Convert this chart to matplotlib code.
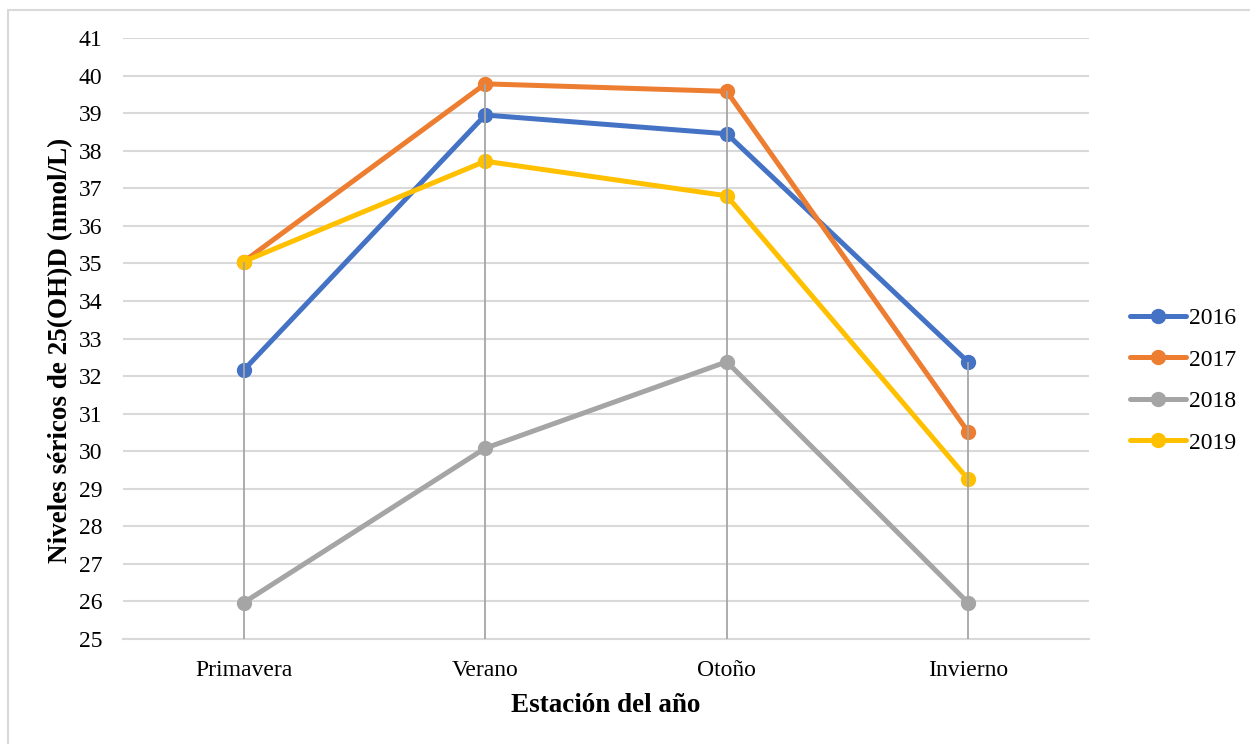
import matplotlib.pyplot as plt
from matplotlib.patches import Rectangle
import numpy as np

plt.rcParams['font.family'] = ['Liberation Serif', 'DejaVu Serif']

estaciones = ['Primavera', 'Verano', 'Otoño', 'Invierno']
anios = ['2016', '2017', '2018', '2019']
v2016 = [32.16, 38.95, 38.45, 32.37]
v2017 = [35.05, 39.78, 39.58, 30.51]
v2018 = [25.97, 30.08, 32.38, 25.96]
v2019 = [35.05, 37.72, 36.80, 29.25]
colores = ['#4472C4', '#ED7D31', '#A5A5A5', '#FFC000']

fig = plt.figure(figsize=(12.5, 7.44), dpi=100)
ax = fig.add_axes([0.0984, 0.1411, 0.7728, 0.8078])

# marco exterior del gráfico
fig.patches.append(Rectangle((8 / 1250, -0.05), 1.1, 1 - 10 / 744 + 0.05,
                             transform=fig.transFigure, fill=False,
                             edgecolor='#d9d9d9', linewidth=1.5))

x = np.arange(len(estaciones))
series = [v2016, v2017, v2018, v2019]
for vals, anio, c in zip(series, anios, colores):
    ax.plot(x, vals, color=c, lw=3.6, marker='o', ms=10, label=anio,
            solid_capstyle='round', zorder=3)

# líneas de proyección hasta el eje
maximos = np.max(np.array(series), axis=0)
ax.vlines(x, 25, maximos, color='#a6a6a6', lw=1.3, zorder=4)

ax.set_xlim(-0.5, 3.5)
ax.set_ylim(25, 41)
ax.set_yticks(range(25, 42))
ax.set_xticks(x)
ax.set_xticklabels(estaciones)
ax.tick_params(length=0, labelsize=17)
ax.tick_params(axis='y', pad=15)
ax.tick_params(axis='x', pad=15)
ax.grid(axis='y', color='#d9d9d9', lw=1.5, zorder=0)
for s in ['top', 'left', 'right']:
    ax.spines[s].set_visible(False)
ax.spines['bottom'].set_color('#d9d9d9')
ax.spines['bottom'].set_linewidth(1.5)

ax.set_xlabel('Estación del año', fontsize=19.5, fontweight='bold', labelpad=9)
ax.set_ylabel('Niveles séricos de 25(OH)D (nmol/L)', fontsize=19.5,
              fontweight='bold')
ax.yaxis.set_label_coords(-0.052, 0.481)

ax.legend(loc='center left', bbox_to_anchor=(1.02, 0.43), frameon=False,
          fontsize=17, handlelength=2.4, handletextpad=0.1, labelspacing=0.85)

fig.savefig('out.png', dpi=100)
